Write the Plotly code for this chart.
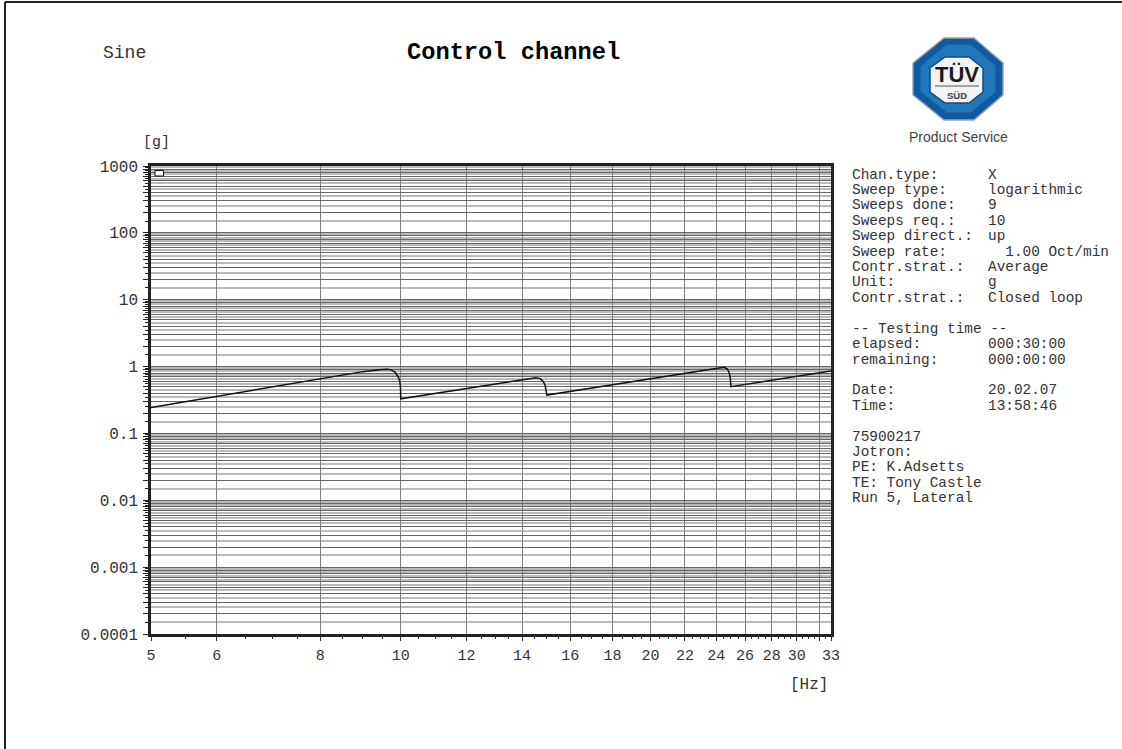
import plotly.graph_objects as go

# ---- chart values ----
freq_hz = [5, 9.0, 9.45, 9.62, 9.72, 9.85, 9.95, 9.99, 10.0,
           14.3, 14.55, 14.72, 14.85, 14.93, 14.97, 15.0,
           24.2, 24.55, 24.75, 24.88, 24.96, 25.0, 33]
accel_g = [0.245, 0.84, 0.90, 0.915, 0.90, 0.82, 0.66, 0.52, 0.33,
           0.665, 0.68, 0.66, 0.60, 0.52, 0.44, 0.375,
           0.95, 0.975, 0.92, 0.80, 0.66, 0.50, 0.86]
spike_hz = [14.95, 14.96]
spike_g = [0.50, 0.70]

x_ticks = [5, 6, 8, 10, 12, 14, 16, 18, 20, 22, 24, 26, 28, 30, 32, 33]
x_labels = ["5", "6", "8", "10", "12", "14", "16", "18", "20", "22", "24", "26", "28", "30", "", "33"]
decades = [0.0001, 0.001, 0.01, 0.1, 1, 10, 100, 1000]
decade_labels = ["0.0001", "0.001", "0.01", "0.1", "1", "10", "100", "1000"]

info_rows = [
    (0, "Chan.type:", "X"), (1, "Sweep type:", "logarithmic"), (2, "Sweeps done:", "9"),
    (3, "Sweeps req.:", "10"), (4, "Sweep direct.:", "up"), (5, "Sweep rate:", "  1.00 Oct/min"),
    (6, "Contr.strat.:", "Average"), (7, "Unit:", "g"), (8, "Contr.strat.:", "Closed loop"),
    (10, "-- Testing time --", ""), (11, "elapsed:", "000:30:00"), (12, "remaining:", "000:00:00"),
    (14, "Date:", "20.02.07"), (15, "Time:", "13:58:46"),
    (17, "75900217", ""), (18, "Jotron:", ""), (19, "PE: K.Adsetts", ""),
    (20, "TE: Tony Castle", ""), (21, "Run 5, Lateral", ""),
]

# ---- layout geometry ----
W, H = 1122, 749
L, R, T, B = 151, 831, 166, 634
MONO = "Liberation Mono"
SANS = "Liberation Sans"


def xp(px):
    return (px - L) / (R - L)


def yp(py):
    return (B - py) / (B - T)


def poly(points):
    return "M " + " L ".join(f"{xp(a):.5f},{yp(b):.5f}" for a, b in points) + " Z"


def shape(**kw):
    return dict(xref="paper", yref="paper", **kw)


y_major = sorted({round(m * d, 6) for d in decades[:-1] for m in range(1, 10)} | {1000})
y_minor = [round((m + 0.5) * d, 6) for d in decades[:-1] for m in range(1, 10)]
y_text = [decade_labels[decades.index(v)] if v in decades else "" for v in y_major]
x_minor = [k / 2 for k in range(11, 66) if k / 2 not in x_ticks]

fig = go.Figure()
fig.add_trace(go.Scatter(x=spike_hz, y=spike_g, mode="lines",
                         line=dict(color="#b8b8b8", width=1), showlegend=False, hoverinfo="skip"))
fig.add_trace(go.Scatter(x=freq_hz, y=accel_g, mode="lines",
                         line=dict(color="#111111", width=1.5), showlegend=False))


def text(px, py, s, size, anchor="left", family=MONO, color="#333333", bold=False):
    fig.add_annotation(xref="paper", yref="paper", x=xp(px), y=yp(py), text=f"<b>{s}</b>" if bold else s,
                       showarrow=False, xanchor=anchor, yanchor="middle",
                       font=dict(family=family, size=size, color=color), borderpad=0, borderwidth=0)


text(103, 53, "Sine", 18)
text(513.5, 53, "Control channel", 23.7, anchor="center", color="#000000", bold=True)
text(143, 143, "[g]", 15)
text(790, 685, "[Hz]", 16)

ROW0, ROWH = 174.5, 15.42
for row, label, value in info_rows:
    y = ROW0 + row * ROWH
    text(852, y, label.replace(" ", "&nbsp;"), 14.4)
    if value:
        text(988, y, value.replace(" ", "&nbsp;"), 14.4)

shapes = [
    # page frame
    shape(type="line", x0=xp(5), x1=xp(5), y0=yp(2), y1=yp(749), line=dict(color="#222222", width=2)),
    shape(type="line", x0=xp(5), x1=xp(1122), y0=yp(2), y1=yp(2), line=dict(color="#222222", width=2)),
    # legend key
    shape(type="rect", x0=xp(155), x1=xp(163.5), y0=yp(176), y1=yp(170.5),
          fillcolor="white", line=dict(color="#111111", width=1)),
    # certification mark
    shape(type="path", path=poly([(944, 38), (974, 38), (1003, 63), (1003, 95), (974, 120), (944, 120), (913, 95), (913, 63)]),
          fillcolor="#125a9e", line=dict(color="#8fa5b8", width=1.5)),
    shape(type="path", path=poly([(947, 44), (971, 44), (996, 66), (996, 92), (971, 113), (947, 113), (920, 92), (920, 66)]),
          fillcolor="#1f76bb", line=dict(color="#0f5a9c", width=1)),
    shape(type="path", path=poly([(945, 57), (969, 57), (983, 68), (983, 92), (969, 103), (945, 103), (930, 92), (930, 68)]),
          fillcolor="#f3f3f3", line=dict(color="#0e4e86", width=1.5)),
    shape(type="line", x0=xp(935), x1=xp(979), y0=yp(86), y1=yp(86), line=dict(color="#555555", width=1)),
]
text(957, 74, "TÜV", 22, anchor="center", family=SANS, color="#1a1a1a", bold=True)
text(957, 95, "SÜD", 9.5, anchor="center", family=SANS, color="#444444", bold=True)
text(958, 137, "Product Service", 14, anchor="center", family=SANS, color="#444444")

fig.update_layout(
    width=W, height=H, margin=dict(l=L, r=W - R, t=T, b=H - B),
    paper_bgcolor="white", plot_bgcolor="white", showlegend=False, shapes=shapes,
    xaxis=dict(
        type="log", range=[0.69897, 1.51851], tickmode="array", tickvals=x_ticks, ticktext=x_labels,
        showgrid=True, gridcolor="#808080", gridwidth=1.2, zeroline=False,
        ticks="outside", ticklen=4, tickwidth=1, tickcolor="#333333",
        tickfont=dict(family=MONO, size=15, color="#333333"), ticklabelstandoff=1, tickangle=0,
        showline=True, mirror=True, linecolor="#222222", linewidth=2.5,
        minor=dict(tickmode="array", tickvals=x_minor, ticks="outside", ticklen=2, tickwidth=1,
                   tickcolor="#333333", showgrid=False),
    ),
    yaxis=dict(
        type="log", range=[-4, 3], tickmode="array", tickvals=y_major, ticktext=y_text,
        showgrid=True, gridcolor="#666666", gridwidth=1, zeroline=False,
        ticks="outside", ticklen=5, tickwidth=1, tickcolor="#222222",
        tickfont=dict(family=MONO, size=16, color="#333333"), ticklabelstandoff=2,
        showline=True, mirror=True, linecolor="#222222", linewidth=2.5,
        minor=dict(tickmode="array", tickvals=y_minor, ticks="outside", ticklen=3, tickwidth=1,
                   tickcolor="#222222", showgrid=True, gridcolor="#bbbbbb", gridwidth=1.5),
    ),
)

fig.write_html("out.html", config={"displayModeBar": False},
               post_script="document.body.style.margin='0';")
